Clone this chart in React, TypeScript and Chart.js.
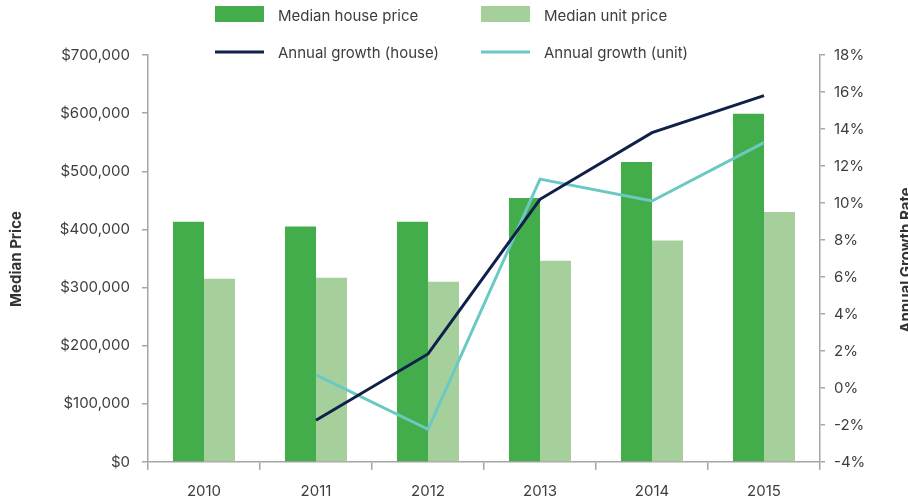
import React, { useEffect, useRef } from "react";
import { Chart, registerables } from "chart.js";

Chart.register(...registerables);

const categories = ["2010", "2011", "2012", "2013", "2014", "2015"];
const houseMedian = [413000, 405000, 413000, 454000, 516000, 599000];
const unitMedian = [315000, 317000, 310000, 346000, 381000, 430000];
const houseGrowth = [null, -1.74, 1.84, 10.2, 13.8, 15.8];
const unitGrowth = [null, 0.71, -2.23, 11.29, 10.11, 13.26];

const seriesLabels = [
  "Median house price",
  "Median unit price",
  "Annual growth (house)",
  "Annual growth (unit)",
];
const leftTitle = "Median Price";
const rightTitle = "Annual Growth Rate";

const HOUSE_BAR = "#42AD4A";
const UNIT_BAR = "#A6D09B";
const HOUSE_LINE = "#10204A";
const UNIT_LINE = "#6BC9C4";
const AXIS = "#A6A6A6";
const TEXT = "#3d3d3d";
const FONT = "Inter";

const legendPlugin = {
  id: "gridLegend",
  afterDraw(chart: any) {
    const ctx = chart.ctx;
    ctx.save();
    const cols = [215, 481];
    const rowsBase = [20.7, 58.3];
    chart.data.datasets.forEach((ds: any, i: number) => {
      const col = i % 2;
      const row = Math.floor(i / 2);
      const x = cols[col];
      if (ds.type === "line") {
        ctx.strokeStyle = ds.borderColor;
        ctx.lineWidth = 3;
        ctx.beginPath();
        ctx.moveTo(x, 52);
        ctx.lineTo(x + 49, 52);
        ctx.stroke();
      } else {
        ctx.fillStyle = ds.backgroundColor;
        ctx.fillRect(x, 6, 49, 16);
      }
      ctx.fillStyle = TEXT;
      ctx.font = `15px ${FONT}`;
      ctx.textAlign = "left";
      ctx.textBaseline = "alphabetic";
      ctx.fillText(ds.label, x + 63, rowsBase[row]);
    });
    // axis titles
    ctx.font = `bold 15px ${FONT}`;
    ctx.fillStyle = "#333";
    ctx.textAlign = "center";
    ctx.textBaseline = "alphabetic";
    ctx.save();
    ctx.translate(21, 259);
    ctx.rotate(-Math.PI / 2);
    ctx.fillText(leftTitle, 0, 0);
    ctx.restore();
    ctx.save();
    ctx.translate(911, 260);
    ctx.rotate(-Math.PI / 2);
    ctx.fillText(rightTitle, 0, 0);
    ctx.restore();
    ctx.restore();
  },
};

export default function App() {
  const ref = useRef<HTMLCanvasElement>(null);
  useEffect(() => {
    if (!ref.current) return;
    const tickFont = { family: FONT, size: 15 };
    const chart = new Chart(ref.current, {
      type: "bar",
      data: {
        labels: categories,
        datasets: [
          {
            type: "bar",
            label: seriesLabels[0],
            data: houseMedian,
            backgroundColor: HOUSE_BAR,
            yAxisID: "y",
            order: 2,
          },
          {
            type: "bar",
            label: seriesLabels[1],
            data: unitMedian,
            backgroundColor: UNIT_BAR,
            yAxisID: "y",
            order: 2,
          },
          {
            type: "line",
            label: seriesLabels[2],
            data: houseGrowth,
            borderColor: HOUSE_LINE,
            backgroundColor: HOUSE_LINE,
            borderWidth: 3,
            pointRadius: 0,
            tension: 0,
            yAxisID: "y1",
            order: 0,
          },
          {
            type: "line",
            label: seriesLabels[3],
            data: unitGrowth,
            borderColor: UNIT_LINE,
            backgroundColor: UNIT_LINE,
            borderWidth: 3,
            pointRadius: 0,
            tension: 0,
            yAxisID: "y1",
            order: 1,
          },
        ] as any,
      },
      options: {
        responsive: false,
        animation: false,
        devicePixelRatio: 1,
        layout: { padding: { top: 55, left: 0, right: 0, bottom: 0 } },
        categoryPercentage: 0.554,
        barPercentage: 1,
        plugins: {
          legend: { display: false },
          tooltip: { enabled: false },
        },
        scales: {
          x: {
            offset: true,
            grid: {
              display: true,
              drawOnChartArea: false,
              drawTicks: true,
              tickLength: 8,
              color: AXIS,
              lineWidth: 1.5,
              offset: true,
            },
            border: { color: AXIS, width: 1.5 },
            ticks: { font: tickFont, color: TEXT, padding: 12, maxRotation: 0 },
            afterFit: (s: any) => {
              s.height = 40;
            },
          },
          y: {
            position: "left",
            min: 0,
            max: 700000,
            grid: {
              drawOnChartArea: false,
              drawTicks: true,
              tickLength: 6,
              color: AXIS,
              lineWidth: 1.5,
            },
            border: { color: AXIS, width: 1.5 },
            ticks: {
              stepSize: 100000,
              font: tickFont,
              color: TEXT,
              padding: 12,
              callback: (v: any) => "$" + Number(v).toLocaleString("en-US"),
            },
            afterFit: (s: any) => {
              s.width = 148;
            },
          },
          y1: {
            position: "right",
            min: -4,
            max: 18,
            grid: {
              drawOnChartArea: false,
              drawTicks: true,
              tickLength: 5,
              color: AXIS,
              lineWidth: 1.5,
            },
            border: { color: AXIS, width: 1.5 },
            ticks: {
              stepSize: 2,
              font: tickFont,
              color: TEXT,
              padding: 9,
              callback: (v: any) => v + "%",
            },
            afterFit: (s: any) => {
              s.width = 88;
            },
          },
        },
      } as any,
      plugins: [legendPlugin],
    });
    return () => chart.destroy();
  }, []);
  return (
    <div style={{ position: "absolute", left: 0, top: 0, width: 908, height: 502, background: "#fff" }}>
      <canvas ref={ref} width={908} height={502} style={{ display: "block" }} />
    </div>
  );
}
